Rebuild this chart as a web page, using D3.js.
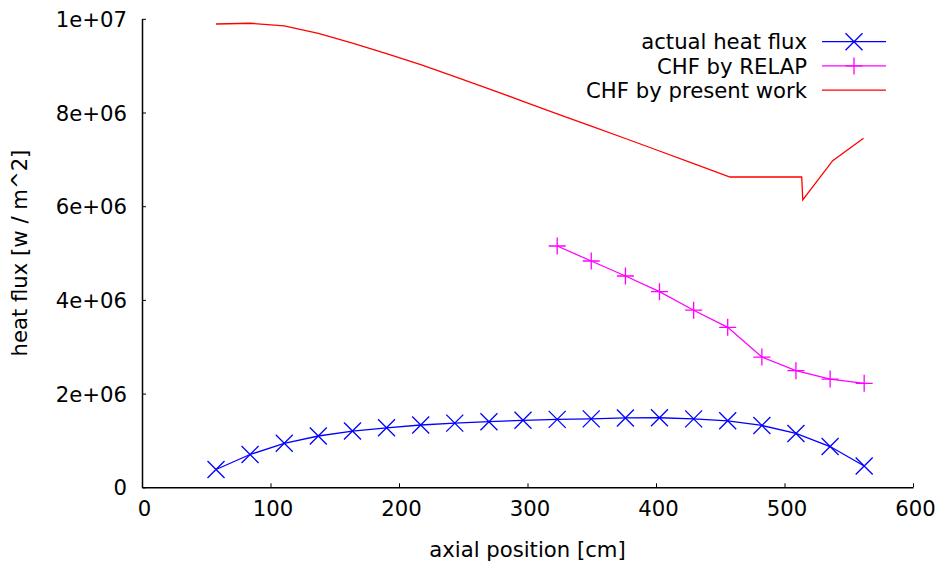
<!DOCTYPE html>
<html><head><meta charset="utf-8">
<script src="https://cdn.jsdelivr.net/npm/d3@7"></script>
<style>
html,body{margin:0;padding:0;background:#fff;}
text{font-family:"DejaVu Sans",sans-serif;}
</style></head>
<body><svg id="chart" width="938" height="562"></svg>
<script>
const positions = [57.6, 84.1, 110.7, 137.2, 163.8, 190.3, 216.9, 243.4, 270.0, 296.5, 323.1, 349.6, 376.2, 402.7, 429.3, 455.8, 482.4, 508.9, 535.5, 562.0];
const actualFlux = [0.38e6, 0.70e6, 0.94e6, 1.095e6, 1.20e6, 1.27e6, 1.33e6, 1.37e6, 1.40e6, 1.43e6, 1.45e6, 1.46e6, 1.48e6, 1.485e6, 1.46e6, 1.42e6, 1.32e6, 1.15e6, 0.87e6, 0.455e6];
const relapPositions = [323.1, 349.6, 376.2, 402.7, 429.3, 455.8, 482.4, 508.9, 535.5, 562.0];
const chfRelap = [5.15e6, 4.83e6, 4.51e6, 4.175e6, 3.78e6, 3.415e6, 2.78e6, 2.49e6, 2.31e6, 2.22e6];
const presentPositions = [57.6, 84.1, 110.7, 137.2, 163.8, 190.3, 216.9, 243.4, 270.0, 296.5, 323.1, 349.6, 376.2, 402.7, 429.3, 457.6, 513.4, 514.2, 537.5, 561.5];
const chfPresent = [9.889e6, 9.905e6, 9.85e6, 9.69e6, 9.483e6, 9.259e6, 9.024e6, 8.764e6, 8.506e6, 8.239e6, 7.970e6, 7.707e6, 7.445e6, 7.178e6, 6.911e6, 6.623e6, 6.623e6, 6.132e6, 6.971e6, 7.449e6];
const xTicks = [0, 100, 200, 300, 400, 500, 600];
const yTicks = [0, 2e6, 4e6, 6e6, 8e6, 1e7];
const yTickLabels = ["0", "2e+06", "4e+06", "6e+06", "8e+06", "1e+07"];
const seriesNames = ["actual heat flux", "CHF by RELAP", "CHF by present work"];
const seriesColors = ["#0000ff", "#ff00ff", "#ff0000"];

const FS = 21.2;
const svg = d3.select("#chart");
const x = d3.scaleLinear().domain([0, 600]).range([142, 913]);
const y = d3.scaleLinear().domain([0, 1e7]).range([487.3, 18.8]);

const xAxis = d3.axisBottom(x).tickValues(xTicks).tickSizeInner(-4).tickSizeOuter(0).tickPadding(14);
const gx = svg.append("g").attr("transform", `translate(0,${y(0)})`).call(xAxis);
const yAxis = d3.axisLeft(y).tickValues(yTicks).tickFormat((d,i)=>yTickLabels[i]).tickSizeInner(-4).tickSizeOuter(0).tickPadding(15);
const gy = svg.append("g").attr("transform", `translate(${x(0)},0)`).call(yAxis);
[gx, gy].forEach(g => {
  g.select(".domain").attr("stroke", "#000").attr("stroke-width", 1.5);
  g.selectAll(".tick line").attr("stroke", "#000").attr("stroke-width", 1);
  g.selectAll(".tick text").attr("font-size", FS).attr("fill", "#000").attr("font-family", "DejaVu Sans, sans-serif");
});
gx.selectAll(".tick text").attr("dx", 2);
gy.selectAll(".tick text").attr("dy", "0.36em");

svg.append("text").attr("x", (x(0)+x(600))/2).attr("y", 557).attr("text-anchor", "middle")
  .attr("font-size", FS).text("axial position [cm]");
svg.append("text").attr("transform", `translate(27,${(y(0)+y(1e7))/2}) rotate(-90)`).attr("text-anchor", "middle")
  .attr("font-size", FS).text("heat flux [w / m^2]");

const line = d3.line().x(d => x(d[0])).y(d => y(d[1]));
const blue = positions.map((p,i)=>[p, actualFlux[i]]);
const pink = relapPositions.map((p,i)=>[p, chfRelap[i]]);
const red = presentPositions.map((p,i)=>[p, chfPresent[i]]);

svg.append("path").datum(red).attr("d", line).attr("fill","none").attr("stroke", seriesColors[2]).attr("stroke-width", 1.3);
svg.append("path").datum(pink).attr("d", line).attr("fill","none").attr("stroke", seriesColors[1]).attr("stroke-width", 1.3);
svg.append("path").datum(blue).attr("d", line).attr("fill","none").attr("stroke", seriesColors[0]).attr("stroke-width", 1.3);

const h = 8.5;
function cross(g, cx, cy, col){
  g.append("path").attr("d", `M${cx-h},${cy-h}L${cx+h},${cy+h}M${cx-h},${cy+h}L${cx+h},${cy-h}`)
    .attr("stroke", col).attr("stroke-width", 1.3).attr("fill","none");
}
function plus(g, cx, cy, col){
  g.append("path").attr("d", `M${cx-h},${cy}L${cx+h},${cy}M${cx},${cy-h}L${cx},${cy+h}`)
    .attr("stroke", col).attr("stroke-width", 1.3).attr("fill","none");
}
const gm = svg.append("g");
pink.forEach(d => plus(gm, x(d[0]), y(d[1]), seriesColors[1]));
blue.forEach(d => cross(gm, x(d[0]), y(d[1]), seriesColors[0]));

const lg = svg.append("g");
seriesNames.forEach((name, i) => {
  const cy = 41.7 + i*24.2;
  lg.append("text").attr("x", 807).attr("y", cy).attr("dy", "0.36em").attr("text-anchor","end")
    .attr("font-size", FS).text(name);
  lg.append("line").attr("x1", 822).attr("x2", 886).attr("y1", cy).attr("y2", cy)
    .attr("stroke", seriesColors[i]).attr("stroke-width", 1.3);
  if (i === 0) cross(lg, 854, cy, seriesColors[0]);
  if (i === 1) plus(lg, 854, cy, seriesColors[1]);
});
</script></body></html>
